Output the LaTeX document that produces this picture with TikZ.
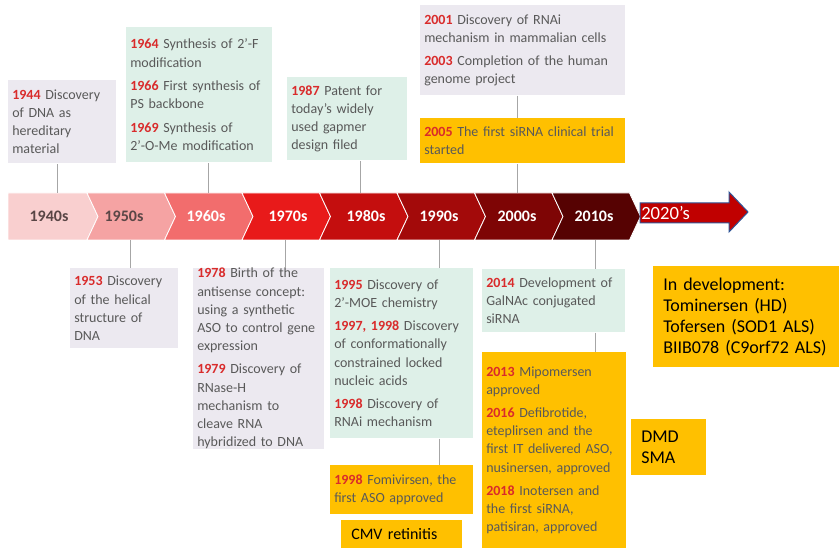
\documentclass[tikz,border=0pt]{standalone}
\usepackage{fontspec}
\setmainfont{Carlito}

\definecolor{lavbg}{HTML}{ECE9F0}
\definecolor{mintbg}{HTML}{DEF0E8}
\definecolor{goldbg}{HTML}{FFC000}
\definecolor{txtgray}{HTML}{595959}
\definecolor{yearred}{HTML}{D92B2B}
\definecolor{tickgray}{HTML}{A6A6A6}
\definecolor{decdark}{HTML}{5A4646}
\definecolor{dec1}{HTML}{F9CFCF}
\definecolor{dec2}{HTML}{F5A3A3}
\definecolor{dec3}{HTML}{F26D6D}
\definecolor{dec4}{HTML}{E81A1A}
\definecolor{dec5}{HTML}{C40E0E}
\definecolor{dec6}{HTML}{A30A0A}
\definecolor{dec7}{HTML}{7E0505}
\definecolor{dec8}{HTML}{560202}
\definecolor{arrred}{HTML}{C00000}
\definecolor{arrblue}{HTML}{2F5597}

\newcommand{\yrtag}[1]{\textcolor{yearred}{\textbf{#1}}}
\newcommand{\boxfont}{\fontsize{10.5}{13.6}\selectfont}
\newcommand{\notefont}{\fontsize{13.5}{15.75}\selectfont}

\tikzset{
  evbox/.style={anchor=north west, inner xsep=3pt, inner ysep=0pt, align=left, font=\boxfont, text=txtgray},
  lavbox/.style={evbox, fill=lavbg},
  mintbox/.style={evbox, fill=mintbg},
  goldbox/.style={evbox, fill=goldbg},
  notebox/.style={anchor=north west, inner xsep=7.5pt, inner ysep=0pt, align=left, fill=goldbg, text=black, font=\notefont},
  declab/.style={font=\fontsize{12}{14}\selectfont\bfseries, inner sep=0pt},
  tick/.style={draw=tickgray, line width=0.75pt},
}

\begin{document}
\begin{tikzpicture}[x=0.75pt, y=-0.75pt]
    \useasboundingbox (0,0) rectangle (839,548);

    % decade band
    \foreach \i/\lab/\fc/\tc/\lx in {1/1940s/dec1/decdark/49, 2/1950s/dec2/decdark/124, 3/1960s/dec3/white/206, 4/1970s/dec4/white/288, 5/1980s/dec5/white/366, 6/1990s/dec6/white/439, 7/2000s/dec7/white/517, 8/2010s/dec8/white/594}{
        \pgfmathsetmacro{\xr}{87+77.5*(\i-1)}
        \pgfmathsetmacro{\xl}{\xr-77.5}
        \ifnum\i=1
            \filldraw[fill=\fc, draw=white, line width=0.6pt] (8,193) -- (\xr,193) -- (\xr+11,216.5) -- (\xr,240) -- (8,240) -- cycle;
        \else
            \filldraw[fill=\fc, draw=white, line width=0.6pt] (\xl,193) -- (\xr,193) -- (\xr+11,216.5) -- (\xr,240) -- (\xl,240) -- (\xl+11,216.5) -- cycle;
        \fi
        \node[declab, text=\tc] (dec\lab) at (\lx,216.5) {\lab};
    }

    \filldraw[fill=arrred, draw=arrblue, line width=0.75pt] (640,203) -- (729,203) -- (729,192) -- (748,212) -- (729,232) -- (729,223) -- (640,223) -- cycle;
    \node[anchor=west, inner sep=0pt, text=white, font=\fontsize{14}{16}\selectfont] (y2020) at (641,213) {2020’s};

    \coordinate (t1944) at (57,193);
    \coordinate (t1964) at (208,193);
    \coordinate (t1987) at (360,193);
    \coordinate (t2001) at (517,193);
    \coordinate (b1953) at (130,240);
    \coordinate (b1978) at (285,240);
    \coordinate (b1995) at (439,240);
    \coordinate (b2014) at (595,240);

    % above the band
    \node[lavbox, text width=75pt, minimum height=62.25pt] (ev1944) at (8,80) {\yrtag{1944} Discovery\\ of DNA as\\ hereditary\\ material};
    \node[mintbox, text width=103.5pt, minimum height=101.25pt] (ev1964) at (126,27) {\yrtag{1964} Synthesis of 2’-F\\ modification\\[4pt] \yrtag{1966} First synthesis of\\ PS backbone\\[4pt] \yrtag{1969} Synthesis of\\ 2’-O-Me modification};
    \node[mintbox, text width=84pt, minimum height=62.25pt] (ev1987) at (287,77) {\yrtag{1987} Patent for\\ today’s widely\\ used gapmer\\ design filed};
    \node[lavbox, text width=147.75pt, minimum height=67.5pt] (ev2001) at (420,5) {\yrtag{2001} Discovery of RNAi\\ mechanism in mammalian cells\\[4pt] \yrtag{2003} Completion of the human\\ genome project};
    \node[goldbox, text width=147.75pt, minimum height=33.75pt] (ev2005) at (420,118) {\yrtag{2005} The first siRNA clinical trial\\ started};

    % below the band
    \node[lavbox, text width=75pt, minimum height=60pt] (ev1953) at (70,268) {\yrtag{1953} Discovery\\ of the helical\\ structure of\\ DNA};
    \node[lavbox, text width=92.25pt, minimum height=135pt] (ev1978) at (193,268) {\yrtag{1978} Birth of the\\ antisense concept:\\ using a synthetic\\ ASO to control gene\\ expression\\[4pt] \yrtag{1979} Discovery of\\ RNase-H\\ mechanism to\\ cleave RNA\\ hybridized to DNA};
    \node[mintbox, text width=101.25pt, minimum height=127.5pt] (ev1995) at (330,268) {\yrtag{1995} Discovery of\\ 2’-MOE chemistry\\[4pt] \yrtag{1997, 1998} Discovery\\ of conformationally\\ constrained locked\\ nucleic acids\\[4pt] \yrtag{1998} Discovery of\\ RNAi mechanism};
    \node[goldbox, text width=101.25pt, minimum height=36.75pt] (ev1998) at (330,465) {\yrtag{1998} Fomivirsen, the\\ first ASO approved};
    \node[notebox, font=\fontsize{12}{14}\selectfont, text width=75.75pt, minimum height=21pt] (cmv) at (341,520) {CMV retinitis};
    \node[mintbox, text width=101.25pt, minimum height=47.25pt] (ev2014) at (482,269) {\yrtag{2014} Development of\\ GalNAc conjugated\\ siRNA};
    \node[goldbox, text width=102pt, minimum height=147pt] (ev2013) at (482,352) {\yrtag{2013} Mipomersen\\ approved\\[4pt] \yrtag{2016} Defibrotide,\\ eteplirsen and the\\ first IT delivered ASO,\\ nusinersen, approved\\[4pt] \yrtag{2018} Inotersen and\\ the first siRNA,\\ patisiran, approved};

    \node[notebox, text width=124.5pt, minimum height=75.75pt] (indev) at (653,266) {In development:\\ Tominersen (HD)\\ Tofersen (SOD1 ALS)\\ BIIB078 (C9orf72 ALS)};
    \node[notebox, text width=41.25pt, minimum height=42pt] (dmd) at (631,419) {DMD\\ SMA};

    % connectors
    \draw[tick] (t1944) -- (t1944 |- ev1944.south);
    \draw[tick] (t1964) -- (t1964 |- ev1964.south);
    \draw[tick] (t1987) -- (t1987 |- ev1987.south);
    \draw[tick] (t2001) -- (t2001 |- ev2005.south);
    \draw[tick] (t2001 |- ev2001.south) -- (t2001 |- ev2005.north);
    \draw[tick] (b1953) -- (b1953 |- ev1953.north);
    \draw[tick] (b1978) -- (b1978 |- ev1978.north);
    \draw[tick] (b1995) -- (b1995 |- ev1995.north);
    \draw[tick] (b1995 |- ev1995.south) -- (b1995 |- ev1998.north);
    \draw[tick] (b2014) -- (b2014 |- ev2014.north);
    \draw[tick] (b2014 |- ev2014.south) -- (b2014 |- ev2013.north);
\end{tikzpicture}
\end{document}
